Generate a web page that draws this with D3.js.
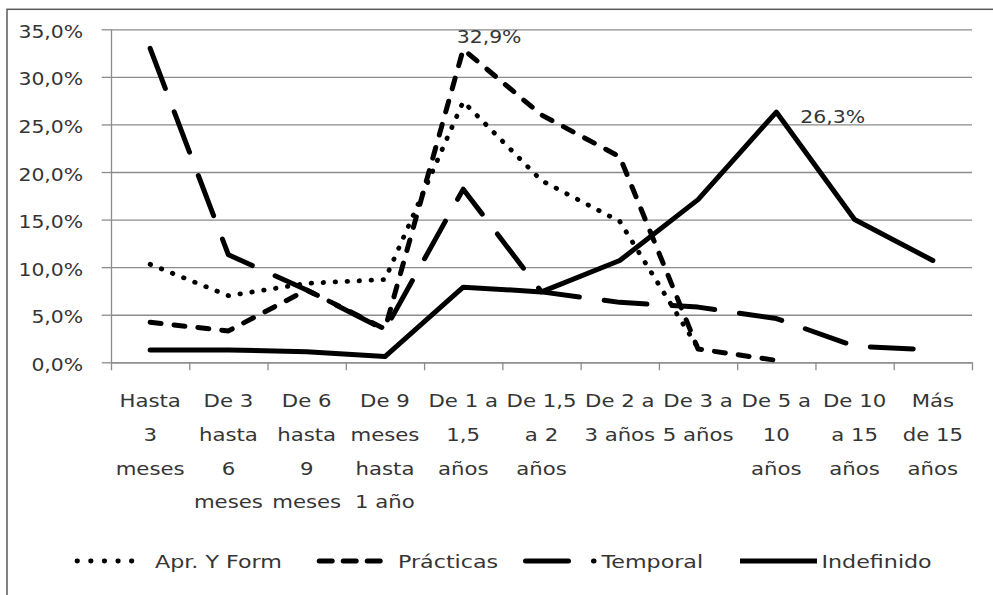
<!DOCTYPE html>
<html>
<head>
<meta charset="utf-8">
<script src="https://cdn.jsdelivr.net/npm/d3@7"></script>
<style>
  html, body { margin: 0; padding: 0; background: #fff; }
  svg { display: block; }
  text { font-family: "DejaVu Sans", Verdana, sans-serif; fill: #353535; }
</style>
</head>
<body>
<svg id="chart" width="993" height="595"></svg>
<script>
// ---- Data ----
const categories = [
  "Hasta\n3\nmeses",
  "De 3\nhasta\n6\nmeses",
  "De 6\nhasta\n9\nmeses",
  "De 9\nmeses\nhasta\n1 año",
  "De 1 a\n1,5\naños",
  "De 1,5\na 2\naños",
  "De 2 a\n3 años",
  "De 3 a\n5 años",
  "De 5 a\n10\naños",
  "De 10\na 15\naños",
  "Más\nde 15\naños"
];
const seriesNames = ["Apr. Y Form", "Prácticas", "Temporal", "Indefinido"];
const aprYForm   = [10.3, 7.0, 8.3, 8.7, 27.4, 19.1, 14.8, 1.5, null, null, null];
const practicas  = [4.2, 3.3, 7.6, 3.5, 32.9, 26.0, 21.6, 1.4, 0.2, null, null];
const temporal   = [33.0, 11.3, 7.6, 3.4, 18.2, 7.4, 6.3, 5.8, 4.6, 1.7, 1.3];
const indefinido = [1.3, 1.3, 1.1, 0.6, 7.9, 7.4, 10.7, 17.1, 26.3, 15.0, 10.7];
const yTicks = [0, 5, 10, 15, 20, 25, 30, 35];
const labelledPoints = [ { series: 1, index: 4 }, { series: 3, index: 8 } ];

// ---- Setup ----
const svg = d3.select("#chart");
const W = 993, H = 595;
const plot = { left: 111, right: 972, top: 29.3, bottom: 362.3 };
const SX = 1.2; // horizontal text stretch

const locale = d3.formatLocale({ decimal: ",", thousands: ".", grouping: [3], currency: ["", "€"] });
const fmt = v => locale.format(".1f")(v) + "%";

const x = d3.scaleBand().domain(d3.range(categories.length)).range([plot.left, plot.right]).paddingInner(0).paddingOuter(0);
const xc = i => x(i) + x.bandwidth() / 2;
const xEdge = d3.scaleLinear().domain([0, categories.length]).range([plot.left, plot.right]);
const y = d3.scaleLinear().domain([0, 35]).range([plot.bottom, plot.top]);

// outer border
svg.append("rect").attr("x", 7).attr("y", 9.3).attr("width", W).attr("height", H)
  .attr("fill", "none").attr("stroke", "#5a5a5a").attr("stroke-width", 1.5);

const gridColor = "#8c8c8c";

// gridlines
const grid = svg.append("g").attr("transform", `translate(${plot.left},0)`)
  .call(d3.axisLeft(y).tickValues(yTicks).tickSize(-(plot.right - plot.left)).tickFormat(""));
grid.select(".domain").remove();
grid.selectAll("line").attr("stroke", gridColor).attr("stroke-width", 1.3);

// y axis with tick marks & labels
const yAxis = svg.append("g").attr("transform", `translate(${plot.left},0)`)
  .call(d3.axisLeft(y).tickValues(yTicks).tickSize(9.3).tickSizeOuter(0).tickPadding(18.5).tickFormat(fmt));
yAxis.select(".domain").attr("stroke", gridColor).attr("stroke-width", 1.3);
yAxis.selectAll(".tick line").attr("stroke", gridColor).attr("stroke-width", 1.3);
yAxis.selectAll(".tick text").each(function() {
  const t = d3.select(this);
  const tx = +t.attr("x");
  t.attr("x", 0).attr("dy", null).attr("y", 8)
   .attr("transform", `translate(${tx},0) scale(${SX},1)`)
   .style("font-size", "17px").style("fill", "#353535").attr("text-anchor", "end");
});
yAxis.attr("font-family", null).attr("font-size", null);

// x axis with boundary ticks
const xAxis = svg.append("g").attr("transform", `translate(0,${plot.bottom})`)
  .call(d3.axisBottom(xEdge).tickValues(d3.range(categories.length + 1)).tickSize(8).tickSizeOuter(0).tickFormat(""));
xAxis.select(".domain").attr("stroke", gridColor).attr("stroke-width", 1.3);
xAxis.selectAll(".tick line").attr("stroke", gridColor).attr("stroke-width", 1.3);

// category labels
const catG = svg.append("g");
categories.forEach((c, i) => {
  const lines = c.split("\n");
  const g = catG.append("g").attr("transform", `translate(${xc(i)},0) scale(${SX},1)`);
  lines.forEach((ln, k) => {
    g.append("text").attr("x", 0).attr("y", 407.5 + k * 33.6)
      .attr("text-anchor", "middle").style("font-size", "17.7px").text(ln);
  });
});

// series
const seriesData = [aprYForm, practicas, temporal, indefinido];
const styles = [
  { dash: "0.5,11.5", cap: "round", width: 4.8 },
  { dash: "11,13", cap: "round", width: 5 },
  { dash: "43,25", cap: "round", width: 5 },
  { dash: null, cap: "round", width: 5 }
];
const line = d3.line().defined(d => d != null).x((d, i) => xc(i)).y(d => y(d));
const linesG = svg.append("g");
seriesData.forEach((s, k) => {
  linesG.append("path").datum(s)
    .attr("d", line)
    .attr("fill", "none").attr("stroke", "#000")
    .attr("stroke-width", styles[k].width)
    .attr("stroke-linecap", styles[k].cap)
    .attr("stroke-linejoin", "round")
    .attr("stroke-dasharray", styles[k].dash);
});

// data labels
const labelOffsets = [ { dx: -6.5, dy: -6.5 }, { dx: 24, dy: 11.4 } ];
labelledPoints.forEach((p, j) => {
  const v = seriesData[p.series][p.index];
  svg.append("g").attr("transform", `translate(${xc(p.index) + labelOffsets[j].dx},${y(v) + labelOffsets[j].dy}) scale(${SX},1)`)
    .append("text").attr("x", 0).attr("y", 0).style("font-size", "17px").text(fmt(v));
});

// legend
const legendY = 561;
const legendItems = [
  { x1: 77, x2: 143, textX: 155, dash: "0.5,13.1", cap: "round" },
  { x1: 319.2, x2: 383.2, textX: 398, dash: "13,11", cap: "round" },
  { x1: 525.5, x2: 594, textX: 601.5, dash: "43,25", cap: "round" },
  { x1: 740, x2: 817, textX: 821.5, dash: null, cap: "butt" }
];
const legG = svg.append("g");
legendItems.forEach((it, k) => {
  legG.append("line").attr("x1", it.x1).attr("x2", it.x2).attr("y1", legendY).attr("y2", legendY)
    .attr("stroke", "#000").attr("stroke-width", styles[k].width)
    .attr("stroke-linecap", it.cap).attr("stroke-dasharray", it.dash);
  legG.append("g").attr("transform", `translate(${it.textX},${legendY + 6.5}) scale(${SX},1)`)
    .append("text").attr("x", 0).attr("y", 0).style("font-size", "18.5px").text(seriesNames[k]);
});
</script>
</body>
</html>
